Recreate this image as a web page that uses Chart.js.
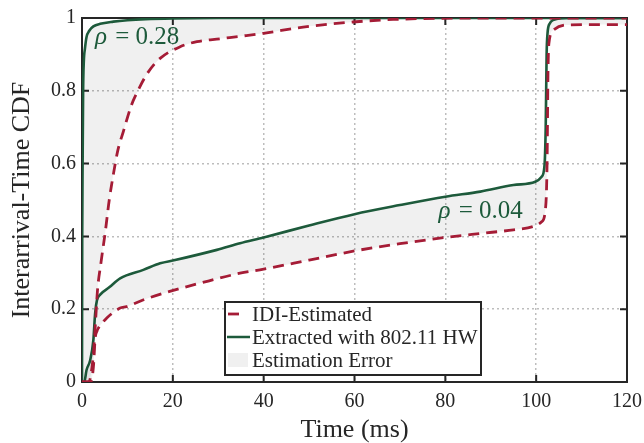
<!DOCTYPE html>
<html lang="en">
<head>
<meta charset="UTF-8">
<title>Interarrival-Time CDF</title>
<script src="https://cdn.jsdelivr.net/npm/chart.js@4.4.0/dist/chart.umd.min.js"></script>
<style>
    html, body { margin: 0; padding: 0; background: #fff; }
    .wrap { width: 644px; height: 443px; }
</style>
</head>
<body>
<div class="wrap"><canvas id="cdf" width="644" height="443"></canvas></div>
<script>
// values (x in ms, y = CDF)
const redTopX = [0, 1.5, 2.2, 2.6, 3.0, 3.4, 4.2, 5.1, 6.0, 6.9, 7.9, 9.1, 10.9, 12.3, 14.5, 17.2, 21.6, 25.3, 30.4, 35, 40, 48.7, 59.7, 68.5, 78, 90, 120];
const redTopY = [0, 0, 0.04, 0.09, 0.17, 0.25, 0.33, 0.41, 0.50, 0.57, 0.637, 0.688, 0.761, 0.80, 0.85, 0.889, 0.921, 0.935, 0.943, 0.95, 0.958, 0.975, 0.989, 0.996, 0.999, 1, 1];

const greenTopX = [0, 0.05, 0.15, 0.25, 0.4, 0.66, 1.0, 1.6, 2.5, 4.0, 6.9, 10, 14, 20, 30, 60, 120];
const greenTopY = [0, 0.40, 0.62, 0.80, 0.88, 0.917, 0.948, 0.965, 0.977, 0.984, 0.99, 0.994, 0.997, 0.999, 1, 1, 1];

const redBotX = [0, 0.6, 1.9, 2.5, 2.9, 3.3, 3.6, 5.4, 8.4, 9.8, 14, 20.5, 28, 34.8, 40, 50, 60, 70, 80, 87.7, 95, 99.3, 101.2, 102.0, 102.4, 102.6, 102.8, 103.8, 106.8, 120];
const redBotY = [0, 0, 0, 0.04, 0.12, 0.14, 0.148, 0.175, 0.203, 0.207, 0.228, 0.253, 0.278, 0.299, 0.31, 0.335, 0.36, 0.38, 0.397, 0.408, 0.418, 0.427, 0.44, 0.47, 0.60, 0.85, 0.93, 0.967, 0.981, 0.982];

const greenBotX = [0, 0.5, 1.0, 1.8, 2.5, 2.9, 3.3, 4.0, 6.0, 8.4, 13.5, 17.2, 20.5, 29.7, 34.8, 40, 50, 60, 70, 80, 87.7, 95, 99.8, 101.2, 101.8, 102.1, 102.3, 102.5, 103.0, 103.7, 106.8, 120];
const greenBotY = [0, 0, 0.033, 0.06, 0.115, 0.19, 0.225, 0.24, 0.26, 0.285, 0.308, 0.326, 0.335, 0.363, 0.381, 0.397, 0.43, 0.461, 0.486, 0.509, 0.523, 0.541, 0.55, 0.564, 0.59, 0.70, 0.90, 0.958, 0.985, 0.994, 1, 1];

const xTickLabels = ['0', '20', '40', '60', '80', '100', '120'];
const yTickLabels = ['0', '0.2', '0.4', '0.6', '0.8', '1'];
const legendLabels = ['IDI-Estimated', 'Extracted with 802.11 HW', 'Estimation Error'];
const rhoLabels = ['0.28', '0.04'];
const rhoAt = [[2.86, 0.928], [78.5, 0.451]];

const RED = '#a51c36';
const GREEN = '#1d5a3b';
const INK = '#262626';
const SERIF = '"Liberation Serif", "Times New Roman", serif';

function pts(xs, ys) {
    return xs.map((x, i) => ({ x: x, y: ys[i] }));
}

// box with inward ticks on all four sides
const framePlugin = {
    id: 'frame',
    beforeDatasetsDraw(chart) {
        const { ctx, chartArea: a, scales } = chart;
        ctx.save();
        ctx.strokeStyle = INK;
        ctx.lineWidth = 2;
        ctx.strokeRect(a.left, a.top, a.right - a.left, a.bottom - a.top);
        const len = 7;
        ctx.beginPath();
        scales.x.ticks.forEach(t => {
            const px = scales.x.getPixelForValue(t.value);
            ctx.moveTo(px, a.bottom); ctx.lineTo(px, a.bottom - len);
            ctx.moveTo(px, a.top); ctx.lineTo(px, a.top + len);
        });
        scales.y.ticks.forEach(t => {
            const py = scales.y.getPixelForValue(t.value);
            ctx.moveTo(a.left, py); ctx.lineTo(a.left + len, py);
            ctx.moveTo(a.right, py); ctx.lineTo(a.right - len, py);
        });
        ctx.stroke();
        ctx.restore();
    },
    afterDraw(chart) {
        const { ctx, scales } = chart;
        ctx.save();
        // rho annotations
        ctx.fillStyle = GREEN;
        ctx.textBaseline = 'alphabetic';
        ctx.textAlign = 'left';
        rhoLabels.forEach((lab, i) => {
            let px = scales.x.getPixelForValue(rhoAt[i][0]);
            const py = scales.y.getPixelForValue(rhoAt[i][1]);
            ctx.font = 'italic 25px ' + SERIF;
            ctx.fillText('\u03c1', px, py);
            px += ctx.measureText('\u03c1').width;
            ctx.font = '25px ' + SERIF;
            ctx.fillText(' = ' + lab, px + 2, py);
        });

        // legend box
        const bx = 225, by = 302, bw = 256, bh = 73;
        ctx.fillStyle = '#fff';
        ctx.fillRect(bx, by, bw, bh);
        ctx.strokeStyle = INK;
        ctx.lineWidth = 2;
        ctx.strokeRect(bx, by, bw, bh);
        const rows = [314, 337, 360];
        ctx.lineWidth = 2.8;
        ctx.strokeStyle = RED;
        ctx.beginPath(); ctx.moveTo(228, rows[0]); ctx.lineTo(239, rows[0]); ctx.stroke();
        ctx.lineWidth = 2.5;
        ctx.strokeStyle = GREEN;
        ctx.beginPath(); ctx.moveTo(227, rows[1]); ctx.lineTo(250, rows[1]); ctx.stroke();
        ctx.fillStyle = '#f0f0f0';
        ctx.fillRect(228, rows[2] - 7, 20, 14);
        ctx.fillStyle = INK;
        ctx.font = '21px ' + SERIF;
        ctx.textBaseline = 'middle';
        legendLabels.forEach((lab, i) => ctx.fillText(lab, 252, rows[i] + 1));
        ctx.restore();
    }
};

const lineBase = { pointRadius: 0, cubicInterpolationMode: 'monotone' };

new Chart(document.getElementById('cdf'), {
    type: 'line',
    data: {
        datasets: [
            Object.assign({ label: 'IDI-Estimated', data: pts(redTopX, redTopY), borderColor: RED, borderWidth: 2.8, borderDash: [11, 7], fill: false }, lineBase),
            Object.assign({ label: 'IDI-Estimated', data: pts(redBotX, redBotY), borderColor: RED, borderWidth: 2.8, borderDash: [11, 7], fill: false }, lineBase),
            Object.assign({ label: 'Extracted with 802.11 HW', data: pts(greenTopX, greenTopY), borderColor: GREEN, borderWidth: 2.6, fill: { target: 0 }, backgroundColor: 'rgba(0,0,0,0.06)' }, lineBase),
            Object.assign({ label: 'Extracted with 802.11 HW', data: pts(greenBotX, greenBotY), borderColor: GREEN, borderWidth: 2.6, fill: { target: 1 }, backgroundColor: 'rgba(0,0,0,0.06)' }, lineBase)
        ]
    },
    options: {
        responsive: false,
        animation: false,
        layout: { padding: { top: 18, right: 17, left: 0, bottom: 0 } },
        plugins: { legend: { display: false }, tooltip: { enabled: false } },
        scales: {
            x: {
                type: 'linear', min: 0, max: 120,
                afterFit: s => { s.height = 61; s.paddingRight = 0; s.paddingLeft = 0; },
                ticks: {
                    stepSize: 20, padding: 8, color: INK, maxRotation: 0,
                    font: { family: SERIF, size: 20 },
                    callback: (v, i) => xTickLabels[i]
                },
                grid: { color: '#bdbdbd', lineWidth: 1.5, drawTicks: false },
                border: { display: false, dash: [2, 3] },
                title: { display: true, text: 'Time (ms)', color: INK, font: { family: SERIF, size: 26 }, padding: { top: 0, bottom: -3 } }
            },
            y: {
                type: 'linear', min: 0, max: 1,
                afterFit: s => { s.width = 82; },
                ticks: {
                    stepSize: 0.2, padding: 6, color: INK,
                    font: { family: SERIF, size: 20 },
                    callback: (v, i) => yTickLabels[i]
                },
                grid: { color: '#bdbdbd', lineWidth: 1.5, drawTicks: false },
                border: { display: false, dash: [2, 3] },
                title: { display: true, text: 'Interarrival-Time CDF', color: INK, font: { family: SERIF, size: 26 }, padding: { top: 7, bottom: 0 } }
            }
        }
    },
    plugins: [framePlugin]
});
</script>
</body>
</html>
